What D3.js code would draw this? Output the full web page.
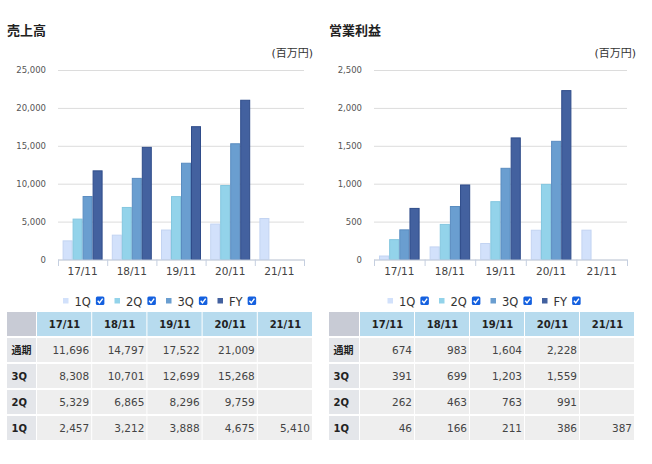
<!DOCTYPE html>
<html><head><meta charset="utf-8">
<script src="https://cdn.jsdelivr.net/npm/d3@7"></script>
<style>
html,body{margin:0;padding:0;background:#fff;}
svg{display:block;}
text{font-family:"DejaVu Sans","Noto Sans CJK JP",sans-serif;}
</style></head>
<body>
<svg id="c" width="652" height="464"></svg>
<script>
const categories = ["17/11","18/11","19/11","20/11","21/11"];
const seriesNames = ["1Q","2Q","3Q","FY"];
const rowLabels = ["通期","3Q","2Q","1Q"]; // table rows: FY,3Q,2Q,1Q
const unitLabel = "(百万円)";

const salesTitle = "売上高";
const sales1Q = [2457, 3212, 3888, 4675, 5410];
const sales2Q = [5329, 6865, 8296, 9759, null];
const sales3Q = [8308, 10701, 12699, 15268, null];
const salesFY = [11696, 14797, 17522, 21009, null];
const salesTicks = [0, 5000, 10000, 15000, 20000, 25000];

const profitTitle = "営業利益";
const profit1Q = [46, 166, 211, 386, 387];
const profit2Q = [262, 463, 763, 991, null];
const profit3Q = [391, 699, 1203, 1559, null];
const profitFY = [674, 983, 1604, 2228, null];
const profitTicks = [0, 500, 1000, 1500, 2000, 2500];

const colors = {"1Q":"#d2e1fb","2Q":"#93d3ea","3Q":"#6a9ed0","FY":"#43619f"};
const strokes = {"1Q":"#c3d4f2","2Q":"#84c6df","3Q":"#5a8cc0","FY":"#2f4c8a"};

const svg = d3.select("#c");
svg.append("rect").attr("width",652).attr("height",464).attr("fill","#fff");

function panel(cfg){
  const g = svg.append("g").attr("transform",`translate(${cfg.ox},0)`);
  const seriesData = {"1Q":cfg.s1,"2Q":cfg.s2,"3Q":cfg.s3,"FY":cfg.sFY};
  // title
  g.append("text").attr("x",cfg.titleX).attr("y",35).text(cfg.title)
    .attr("font-family","Noto Sans CJK JP").attr("font-weight","bold")
    .attr("font-size",13).attr("fill","#222");
  g.append("text").attr("x",cfg.unitX).attr("y",57).attr("text-anchor","end")
    .text(unitLabel).attr("font-size",11).attr("fill","#333");

  const x = d3.scaleBand().domain(categories).range([cfg.plotL, cfg.plotR]).padding(0);
  const y = d3.scaleLinear().domain([0, cfg.ticks[cfg.ticks.length-1]]).range([259.5, 70]);
  const bw = x.bandwidth();
  const sub = d3.scaleBand().domain(seriesNames).range([cfg.inPad, bw - cfg.inPad]).padding(0);

  // y axis with gridlines
  const ya = g.append("g").attr("transform",`translate(${cfg.plotL},0)`)
    .call(d3.axisLeft(y).tickValues(cfg.ticks).tickSize(-(cfg.plotR-cfg.plotL))
      .tickPadding(12).tickFormat(d3.format(",")));
  ya.select(".domain").remove();
  ya.selectAll(".tick line").attr("stroke","#dcdcdc").attr("stroke-width",1);
  ya.selectAll(".tick text").attr("font-size",8.5).attr("fill","#555")
    .attr("font-family","DejaVu Sans");

  // bars
  categories.forEach((c,i)=>{
    seriesNames.forEach(s=>{
      const v = seriesData[s][i];
      if(v==null) return;
      g.append("rect")
        .attr("x", x(c)+sub(s)+0.5).attr("y", y(v))
        .attr("width", sub.bandwidth()-1).attr("height", y(0)-y(v))
        .attr("fill", colors[s]).attr("stroke", strokes[s]).attr("stroke-width",1);
    });
  });

  // x axis
  const xa = g.append("g").attr("transform",`translate(0,259.5)`)
    .call(d3.axisBottom(x).tickSize(0).tickPadding(8));
  xa.select(".domain").attr("stroke","#c5cfe0").attr("stroke-width",1.2);
  xa.selectAll(".tick text").attr("font-size",10.5).attr("fill","#444");
  const bounds = categories.map(c=>x(c)).concat([cfg.plotR]);
  g.selectAll(".bnd").data(bounds).enter().append("line")
    .attr("x1",d=>d+0.5).attr("x2",d=>d+0.5).attr("y1",259.5).attr("y2",266)
    .attr("stroke","#c5cfe0").attr("stroke-width",1);

  // legend
  seriesNames.forEach((s,i)=>{
    const lx = cfg.legX + i*cfg.legStep;
    g.append("rect").attr("x",lx).attr("y",298).attr("width",5.5).attr("height",5.5)
      .attr("fill",colors[s]);
    const t = g.append("text").attr("x",lx+11.5).attr("y",305.5).text(s)
      .attr("font-size",11.5).attr("fill","#333");
    const tw = t.node().getComputedTextLength();
    const cx = lx + 11.5 + tw + 5;
    g.append("rect").attr("x",cx).attr("y",296.5).attr("width",8.5).attr("height",8.5)
      .attr("rx",1.5).attr("fill","#1460df");
    g.append("path").attr("d",`M${cx+1.8},${300.8} L${cx+3.6},${302.8} L${cx+6.8},${298.6}`)
      .attr("fill","none").attr("stroke","#fff").attr("stroke-width",1.4);
  });

  // table
  const tX = cfg.tableX, firstW = cfg.firstW, colW = cfg.colW;
  const headY = 312, headH = 25, rowH = 26;
  const colX = i => tX + firstW + i*colW;
  // header
  g.append("rect").attr("x",tX).attr("y",headY).attr("width",firstW-1).attr("height",headH-1)
    .attr("fill","#c8cbd5");
  categories.forEach((c,i)=>{
    g.append("rect").attr("x",colX(i)).attr("y",headY).attr("width",colW-1).attr("height",headH-1)
      .attr("fill","#b7dbee");
    g.append("text").attr("x",colX(i)+colW/2).attr("y",headY+headH/2+3.5)
      .attr("text-anchor","middle").attr("font-weight","bold").attr("font-size",10)
      .attr("fill","#222").text(c);
  });
  const rowsData = [cfg.sFY, cfg.s3, cfg.s2, cfg.s1];
  rowLabels.forEach((lab,r)=>{
    const ry = headY + headH + r*rowH;
    g.append("rect").attr("x",tX).attr("y",ry+1).attr("width",firstW-1).attr("height",rowH-2)
      .attr("fill","#e4e6ea");
    g.append("text").attr("x",tX+4.5).attr("y",ry+rowH/2+4)
      .attr("font-weight","bold").attr("font-size",10).attr("fill","#222").text(lab);
    categories.forEach((c,i)=>{
      g.append("rect").attr("x",colX(i)).attr("y",ry+1).attr("width",colW-1).attr("height",rowH-2)
        .attr("fill","#eeeeee");
      const v = rowsData[r][i];
      if(v!=null){
        g.append("text").attr("x",colX(i)+colW-3).attr("y",ry+rowH/2+4)
          .attr("text-anchor","end").attr("font-size",10.5).attr("fill","#444")
          .text(d3.format(",")(v));
      }
    });
  });
}

panel({ox:0, title:salesTitle, titleX:7, unitX:313, plotL:58, plotR:304, inPad:4.6,
  ticks:salesTicks, s1:sales1Q, s2:sales2Q, s3:sales3Q, sFY:salesFY,
  legX:63, legStep:51.5, tableX:7, firstW:30, colW:55.2});
panel({ox:326, title:profitTitle, titleX:3, unitX:310, plotL:48, plotR:301, inPad:5,
  ticks:profitTicks, s1:profit1Q, s2:profit2Q, s3:profit3Q, sFY:profitFY,
  legX:61.5, legStep:51.5, tableX:3, firstW:31, colW:55});
</script>
</body></html>
